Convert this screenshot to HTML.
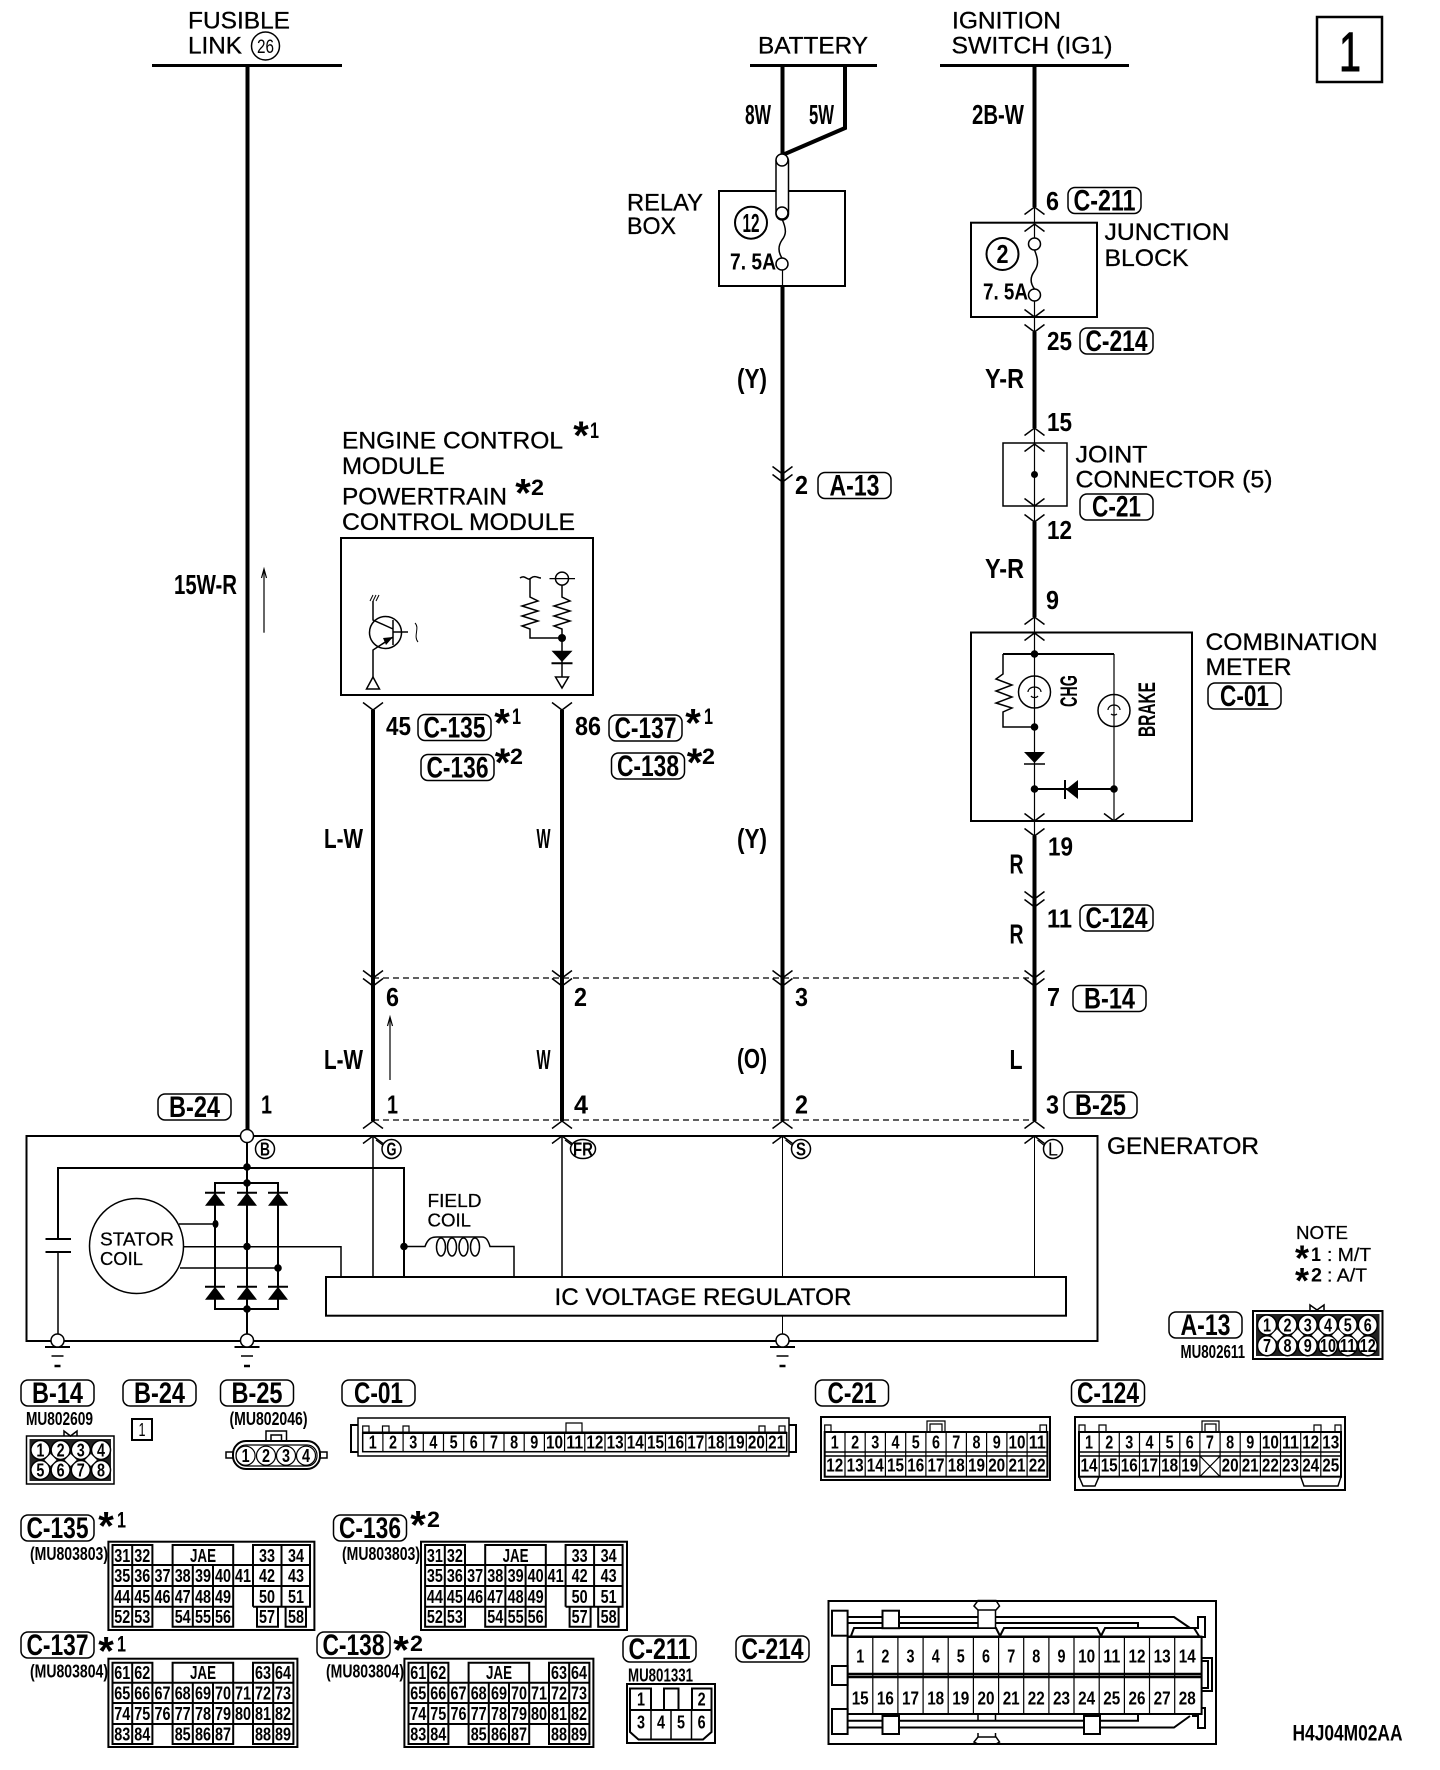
<!DOCTYPE html>
<html><head><meta charset="utf-8"><title>Charging circuit diagram</title>
<style>
html,body{margin:0;padding:0;background:#fff}
svg{display:block}
text{font-family:"Liberation Sans",sans-serif;fill:#000;stroke:none}
.t{font-size:24px;stroke:#000;stroke-width:.3px}
.s{font-size:18.5px;stroke:#000;stroke-width:.25px}
.w{font-size:28px;font-weight:bold}
.n{font-size:26px;font-weight:bold}
.l{font-size:30px;font-weight:bold;text-anchor:middle}
.p text,.p{font-size:18px;font-weight:bold;text-anchor:middle}
.st{font-size:40px;font-weight:bold;text-anchor:middle}
.st2{font-size:36px;font-weight:bold;text-anchor:middle}
.d{font-size:22px;font-weight:bold}
.m{font-size:18px;font-weight:bold}
.k{fill:#000;stroke:none}
.f{fill:#fff}
</style></head><body>
<svg xmlns="http://www.w3.org/2000/svg" width="1440" height="1770" viewBox="0 0 1440 1770" fill="none" stroke="#000" stroke-width="1.5">
<defs>
<path id="cu" d="M-10 7.5L0 0L10 7.5"/>
<path id="cd" d="M-10 -7.5L0 0L10 -7.5"/>
<rect id="lb" width="73" height="26" rx="7" stroke-width="1.5" fill="#fff"/>
<g id="gnd"><path d="M-12.5 6.5H12.5" stroke-width="2"/><path d="M-6 15.5H6" stroke-width="1.5"/><path d="M-3 25.5H3" stroke-width="2.5"/><ellipse cx="0" cy="0" rx="6.5" ry="6.5" fill="#fff" stroke-width="1.5"/></g>
<g id="dt"><path class="k" d="M-10 13L0 0L10 13Z"/><path d="M-10 0H10" stroke-width="2"/></g>
<path id="dia" d="M0 -6L6 0L0 6L-6 0Z" fill="#fff" stroke="none"/>
</defs>

<!-- page number -->
<rect x="1323" y="17" width="65" height="65" stroke-width="2.5" transform="translate(-6,0)"/>
<text x="1350" y="71" font-size="56" text-anchor="middle" textLength="22" lengthAdjust="spacingAndGlyphs" stroke="#000" stroke-width="1" style="stroke:#000;stroke-width:1px">1</text>

<!-- top labels -->
<text class="t" x="188" y="28.7" textLength="102" lengthAdjust="spacingAndGlyphs">FUSIBLE</text>
<text class="t" x="188" y="53.6" textLength="54" lengthAdjust="spacingAndGlyphs">LINK</text>
<ellipse cx="265.5" cy="46" rx="14" ry="14"/>
<text x="265.5" y="53" font-size="19" text-anchor="middle" textLength="17" lengthAdjust="spacingAndGlyphs">26</text>
<text class="t" x="758" y="53.6" textLength="110" lengthAdjust="spacingAndGlyphs">BATTERY</text>
<text class="t" x="952" y="28.7" textLength="109" lengthAdjust="spacingAndGlyphs">IGNITION</text>
<text class="t" x="951.5" y="53.6" textLength="161" lengthAdjust="spacingAndGlyphs">SWITCH (IG1)</text>
<path d="M152 65.5H342M750 65.5H877M940 65.5H1129" stroke-width="3"/>

<!-- thick wires -->
<g stroke-width="4">
<path d="M247.5 65V1130"/>
<path d="M373 710V1121M562 710V1121"/>
<path d="M782.5 65V155M782.5 286V1121"/>
<path d="M845 65V128L782.5 155"/>
<path d="M1034.5 65V207M1034.5 332V428M1034.5 522V617M1034.5 836V1121"/>
</g>

<!-- relay box -->
<rect x="719" y="191" width="126" height="95" stroke-width="2"/>
<rect x="776" y="155" width="12.5" height="65" rx="6.2" fill="#fff" stroke-width="1.5"/>
<circle cx="782" cy="160" r="6" class="f"/><circle cx="782" cy="213" r="6" class="f"/>
<path d="M782 219C787 230 786 235 782 240C778 246 778 252 782 258" stroke-width="1.5"/>
<circle cx="782" cy="264" r="6" class="f"/>
<path d="M782.5 270V286" stroke-width="1.2"/>
<ellipse cx="751" cy="222.7" rx="16" ry="16" stroke-width="2"/>
<text class="n" x="751" y="232" text-anchor="middle" textLength="17" lengthAdjust="spacingAndGlyphs">12</text>
<text class="n" x="730" y="269.5" textLength="46" lengthAdjust="spacingAndGlyphs" style="font-size:23px">7. 5A</text>
<text class="t" x="627" y="210.5" textLength="76" lengthAdjust="spacingAndGlyphs">RELAY</text>
<text class="t" x="627" y="234.2" textLength="49" lengthAdjust="spacingAndGlyphs">BOX</text>

<!-- wire labels top -->
<text class="w" x="745" y="124" textLength="26" lengthAdjust="spacingAndGlyphs">8W</text>
<text class="w" x="809" y="124" textLength="25" lengthAdjust="spacingAndGlyphs">5W</text>
<text class="w" x="972" y="124" textLength="52" lengthAdjust="spacingAndGlyphs">2B-W</text>
<text class="w" x="737" y="388" textLength="30" lengthAdjust="spacingAndGlyphs">(Y)</text>
<text class="w" x="985" y="388" textLength="39" lengthAdjust="spacingAndGlyphs">Y-R</text>
<text class="w" x="985" y="578" textLength="39" lengthAdjust="spacingAndGlyphs">Y-R</text>
<text class="w" x="174" y="594" textLength="63" lengthAdjust="spacingAndGlyphs">15W-R</text>
<path d="M264 632.7V570" stroke-width="1.2"/><path d="M261.5 578L264 569L266.5 578" stroke-width="1.2"/>

<!-- A-13 inline -->
<use href="#cd" x="782.5" y="474"/><use href="#cd" x="782.5" y="482"/>
<text class="n" x="795" y="494" textLength="13" lengthAdjust="spacingAndGlyphs">2</text>
<use href="#lb" x="818" y="472.5"/><text class="l" x="854.5" y="495.5" textLength="50" lengthAdjust="spacingAndGlyphs">A-13</text>

<!-- junction block -->
<use href="#cu" x="1034.5" y="207"/>
<text class="n" x="1046" y="210" textLength="13" lengthAdjust="spacingAndGlyphs">6</text>
<use href="#lb" x="1068" y="187.5"/><text class="l" x="1104.5" y="210.5" textLength="62" lengthAdjust="spacingAndGlyphs">C-211</text>
<rect x="971" y="222.7" width="126" height="94.3" stroke-width="2"/>
<path d="M1034.5 207V238M1034.5 301V332" stroke-width="1.2"/>
<use href="#cu" x="1034.5" y="224"/>
<circle cx="1034.5" cy="244" r="6" class="f"/>
<path d="M1034.5 250C1039 261 1038 266 1034.5 271C1030 277 1030 283 1034.5 289" stroke-width="1.5"/>
<circle cx="1034.5" cy="295" r="6" class="f"/>
<ellipse cx="1002.5" cy="254" rx="16" ry="16" stroke-width="2"/>
<text class="n" x="1002.5" y="263" text-anchor="middle" textLength="12" lengthAdjust="spacingAndGlyphs">2</text>
<text class="n" x="983" y="299.5" textLength="45" lengthAdjust="spacingAndGlyphs" style="font-size:23px">7. 5A</text>
<use href="#cd" x="1034.5" y="317"/><use href="#cd" x="1034.5" y="332"/>
<text class="t" x="1104.5" y="240" textLength="125" lengthAdjust="spacingAndGlyphs">JUNCTION</text>
<text class="t" x="1104.5" y="266" textLength="84" lengthAdjust="spacingAndGlyphs">BLOCK</text>
<text class="n" x="1047" y="350" textLength="25" lengthAdjust="spacingAndGlyphs">25</text>
<use href="#lb" x="1080" y="328"/><text class="l" x="1116.5" y="351" textLength="62" lengthAdjust="spacingAndGlyphs">C-214</text>

<!-- joint connector -->
<use href="#cu" x="1034.5" y="428"/>
<text class="n" x="1047" y="431" textLength="25" lengthAdjust="spacingAndGlyphs">15</text>
<rect x="1003" y="443" width="64" height="63" stroke-width="1.5"/>
<path d="M1034.5 428V522" stroke-width="1.2"/>
<use href="#cu" x="1034.5" y="444"/><use href="#cd" x="1034.5" y="506"/><use href="#cd" x="1034.5" y="522"/>
<circle cx="1034.5" cy="474.5" r="3.5" class="k"/>
<text class="t" x="1075.5" y="462.5" textLength="72" lengthAdjust="spacingAndGlyphs">JOINT</text>
<text class="t" x="1075.5" y="487.5" textLength="197" lengthAdjust="spacingAndGlyphs">CONNECTOR (5)</text>
<use href="#lb" x="1080" y="494"/><text class="l" x="1116.5" y="516.5" textLength="49" lengthAdjust="spacingAndGlyphs">C-21</text>
<text class="n" x="1047" y="539" textLength="25" lengthAdjust="spacingAndGlyphs">12</text>
<text class="n" x="1046" y="609" textLength="13" lengthAdjust="spacingAndGlyphs">9</text>

<!-- ECM -->
<text class="t" x="342" y="448.5" textLength="221" lengthAdjust="spacingAndGlyphs">ENGINE CONTROL</text>
<text class="t" x="342" y="473.8" textLength="103" lengthAdjust="spacingAndGlyphs">MODULE</text>
<text class="t" x="342" y="504.4" textLength="165" lengthAdjust="spacingAndGlyphs">POWERTRAIN</text>
<text class="t" x="342" y="530" textLength="233" lengthAdjust="spacingAndGlyphs">CONTROL MODULE</text>
<text class="st" x="581" y="449">*</text><text class="d" x="590" y="438" textLength="9" lengthAdjust="spacingAndGlyphs">1</text>
<text class="st" x="523" y="506.5">*</text><text class="d" x="531" y="495" textLength="13" lengthAdjust="spacingAndGlyphs">2</text>
<rect x="341" y="538" width="252" height="157" stroke-width="2"/>
<!-- transistor -->
<path d="M370 601L373 595M373 601L376 595M376 601L379 595" stroke-width="1"/>
<path d="M373 601V620L393 629M393 637L373 650V677M393 620V645M393 632H408" stroke-width="1.5"/>
<path class="k" d="M393 637L383 638L386 645Z"/>
<ellipse cx="385.5" cy="632.5" rx="16" ry="16" stroke-width="1.5"/>
<path d="M415 623C420 628 413 636 418 642" stroke-width="1"/>
<path d="M373 677L379.5 689H366.5Z" stroke-width="1.5"/>
<!-- resistors -->
<path d="M520 578C525 574 528 582 531 578C535 575 538 578 541 578M530 578V597L538 601L522 606L538 611L522 616L538 621L522 626L530 629V638H562" stroke-width="1.5"/>
<path d="M549.5 578.6H575" stroke-width="1.2"/>
<circle cx="562" cy="578.6" r="6.5"/>
<path d="M562 585V597L570 601L554 606L570 611L554 616L570 621L554 626L562 629V677" stroke-width="1.5"/>
<circle cx="562" cy="638" r="4" class="k"/>
<path class="k" d="M551.5 650.7H572.5L562 662Z"/><path d="M551.5 663.3H572.5" stroke-width="2"/>
<path d="M555.5 677H568.5L562 688Z" stroke-width="1.5" fill="#fff"/>

<!-- ECM connectors -->
<use href="#cd" x="373" y="710"/><use href="#cd" x="562" y="710"/>
<text class="n" x="386" y="735" textLength="25" lengthAdjust="spacingAndGlyphs">45</text>
<use href="#lb" x="418" y="714.5"/><text class="l" x="454.5" y="737.5" textLength="62" lengthAdjust="spacingAndGlyphs">C-135</text>
<text class="st" x="502" y="736.5">*</text><text class="d" x="512" y="724" textLength="9" lengthAdjust="spacingAndGlyphs">1</text>
<use href="#lb" x="421" y="754.5"/><text class="l" x="457.5" y="777.5" textLength="62" lengthAdjust="spacingAndGlyphs">C-136</text>
<text class="st" x="502.5" y="776">*</text><text class="d" x="510" y="764" textLength="13" lengthAdjust="spacingAndGlyphs">2</text>
<text class="n" x="575" y="735" textLength="26" lengthAdjust="spacingAndGlyphs">86</text>
<use href="#lb" x="609" y="715"/><text class="l" x="645.5" y="738" textLength="62" lengthAdjust="spacingAndGlyphs">C-137</text>
<text class="st" x="693" y="736.5">*</text><text class="d" x="704" y="724" textLength="9" lengthAdjust="spacingAndGlyphs">1</text>
<use href="#lb" x="611.5" y="753"/><text class="l" x="648" y="776" textLength="62" lengthAdjust="spacingAndGlyphs">C-138</text>
<text class="st" x="694.5" y="776">*</text><text class="d" x="702" y="764" textLength="13" lengthAdjust="spacingAndGlyphs">2</text>
<text class="w" x="324" y="848" textLength="39" lengthAdjust="spacingAndGlyphs">L-W</text>
<text class="w" x="536.5" y="848" textLength="14" lengthAdjust="spacingAndGlyphs">W</text>
<text class="w" x="737" y="848" textLength="30" lengthAdjust="spacingAndGlyphs">(Y)</text>

<!-- combination meter -->
<use href="#cu" x="1034.5" y="617"/>
<rect x="971" y="632.5" width="221" height="188.5" stroke-width="2"/>
<path d="M1034.5 617V836" stroke-width="1.2"/>
<use href="#cu" x="1034.5" y="633"/>
<path d="M1003 654H1114" stroke-width="2"/>
<path d="M1114 654V821" stroke-width="1.2"/>
<path d="M1003 654V674L996 679L1012 685L996 691L1012 697L996 703L1012 708L1003 712V727H1034.5" stroke-width="1.5"/>
<circle cx="1034.5" cy="654" r="3.8" class="k"/><circle cx="1034.5" cy="727" r="3.8" class="k"/>
<ellipse cx="1034.5" cy="692" rx="16" ry="16" stroke-width="1.5"/>
<path d="M1028 692a6.5 5 0 0 1 13 0M1031 696a4 3 0 0 0 7 0" stroke-width="1.2"/>
<ellipse cx="1114" cy="710.5" rx="16" ry="16" stroke-width="1.5"/>
<path d="M1108 710a6 5 0 0 1 12 0M1111 714a4 3 0 0 0 6 0" stroke-width="1.2"/>
<text class="n" transform="translate(1077,691) rotate(-90)" text-anchor="middle" textLength="32" lengthAdjust="spacingAndGlyphs" style="font-size:24px">CHG</text>
<text class="n" transform="translate(1155,709.5) rotate(-90)" text-anchor="middle" textLength="55" lengthAdjust="spacingAndGlyphs" style="font-size:24px">BRAKE</text>
<path class="k" d="M1024 752H1045L1034.5 763Z"/><path d="M1024 764H1045" stroke-width="1.5"/>
<path d="M1034.5 789H1114" stroke-width="2"/>
<path class="k" d="M1078 780V799L1066 789.5Z"/><path d="M1065 780V799" stroke-width="2"/>
<circle cx="1034.5" cy="789" r="3.8" class="k"/><circle cx="1114" cy="789" r="3.8" class="k"/>
<use href="#cd" x="1034.5" y="821"/><use href="#cd" x="1114" y="821"/><use href="#cd" x="1034.5" y="836"/>
<text class="t" x="1205.5" y="650" textLength="172" lengthAdjust="spacingAndGlyphs">COMBINATION</text>
<text class="t" x="1205.5" y="675" textLength="86" lengthAdjust="spacingAndGlyphs">METER</text>
<use href="#lb" x="1208" y="683"/><text class="l" x="1244.5" y="706" textLength="49" lengthAdjust="spacingAndGlyphs">C-01</text>
<text class="n" x="1048" y="855.5" textLength="25" lengthAdjust="spacingAndGlyphs">19</text>
<text class="w" x="1009.5" y="873.5" textLength="14" lengthAdjust="spacingAndGlyphs">R</text>
<text class="w" x="1009.5" y="943.5" textLength="14" lengthAdjust="spacingAndGlyphs">R</text>
<use href="#cd" x="1034.5" y="899"/><use href="#cd" x="1034.5" y="907"/>
<text class="n" x="1047" y="927.5" textLength="25" lengthAdjust="spacingAndGlyphs">11</text>
<use href="#lb" x="1080" y="905"/><text class="l" x="1116.5" y="928" textLength="62" lengthAdjust="spacingAndGlyphs">C-124</text>

<!-- dashed connector B-14 -->
<path d="M373 978H1034" stroke-width="1.2" stroke-dasharray="6 4"/>
<g>
<use href="#cd" x="373" y="978"/><use href="#cd" x="373" y="986"/>
<use href="#cd" x="562" y="978"/><use href="#cd" x="562" y="986"/>
<use href="#cd" x="782.5" y="978"/><use href="#cd" x="782.5" y="986"/>
<use href="#cd" x="1034.5" y="978"/><use href="#cd" x="1034.5" y="986"/>
</g>
<text class="n" x="386" y="1006" textLength="13" lengthAdjust="spacingAndGlyphs">6</text>
<text class="n" x="574" y="1006" textLength="13" lengthAdjust="spacingAndGlyphs">2</text>
<text class="n" x="795" y="1006" textLength="13" lengthAdjust="spacingAndGlyphs">3</text>
<text class="n" x="1047" y="1006" textLength="13" lengthAdjust="spacingAndGlyphs">7</text>
<use href="#lb" x="1073" y="985.5"/><text class="l" x="1109.5" y="1008.5" textLength="51" lengthAdjust="spacingAndGlyphs">B-14</text>
<path d="M390 1080V1018" stroke-width="1.2"/><path d="M387.5 1026L390 1017L392.5 1026" stroke-width="1.2"/>
<text class="w" x="324" y="1069" textLength="39" lengthAdjust="spacingAndGlyphs">L-W</text>
<text class="w" x="536.5" y="1069" textLength="14" lengthAdjust="spacingAndGlyphs">W</text>
<text class="w" x="737" y="1068" textLength="30" lengthAdjust="spacingAndGlyphs">(O)</text>
<text class="w" x="1009.5" y="1069" textLength="13" lengthAdjust="spacingAndGlyphs">L</text>
<use href="#lb" x="158" y="1094"/><text class="l" x="194.5" y="1117" textLength="51" lengthAdjust="spacingAndGlyphs">B-24</text>
<text class="n" x="261" y="1113.5" textLength="11" lengthAdjust="spacingAndGlyphs">1</text>
<text class="n" x="387" y="1113.5" textLength="11" lengthAdjust="spacingAndGlyphs">1</text>
<text class="n" x="574" y="1113.5" textLength="14" lengthAdjust="spacingAndGlyphs">4</text>
<text class="n" x="795" y="1113.5" textLength="13" lengthAdjust="spacingAndGlyphs">2</text>
<text class="n" x="1046" y="1113.5" textLength="13" lengthAdjust="spacingAndGlyphs">3</text>
<use href="#lb" x="1064" y="1092"/><text class="l" x="1100.5" y="1115" textLength="51" lengthAdjust="spacingAndGlyphs">B-25</text>
<path d="M373 1120H1034" stroke-width="1.2" stroke-dasharray="6 4"/>
<use href="#cu" x="373" y="1121"/><use href="#cu" x="562" y="1121"/><use href="#cu" x="782.5" y="1121"/><use href="#cu" x="1034.5" y="1121"/>

<!-- generator -->
<rect x="26.5" y="1136" width="1071" height="205" stroke-width="2"/>
<use href="#cu" x="373" y="1136"/><use href="#cu" x="562" y="1136"/><use href="#cu" x="782.5" y="1136"/><use href="#cu" x="1034.5" y="1136"/>
<path d="M247 1136V1335" stroke-width="2"/>
<ellipse cx="247" cy="1136" rx="6.5" ry="6.5" class="f" stroke-width="1.5"/>
<path d="M373 1136V1277M562 1136V1277" stroke-width="1.5"/>
<path d="M782.5 1136V1277M1034.5 1136V1277M782.5 1316V1335" stroke-width="1"/>
<path d="M376 1140L384 1146M565 1140L573 1146M785.5 1140L793 1146M1037.5 1140L1045 1146" stroke-width="1.2"/>
<g stroke-width="1.5" fill="#fff">
<ellipse cx="265" cy="1149" rx="9.5" ry="9.5"/><ellipse cx="391.5" cy="1149" rx="9.5" ry="9.5"/><ellipse cx="583" cy="1149" rx="12.5" ry="9.5"/><ellipse cx="801" cy="1149" rx="9.5" ry="9.5"/><ellipse cx="1053" cy="1149" rx="9.5" ry="9.5"/>
</g>
<g class="m" text-anchor="middle" style="font-size:18px">
<text x="265" y="1155.5" textLength="10" lengthAdjust="spacingAndGlyphs">B</text>
<text x="391.5" y="1155.5" textLength="10" lengthAdjust="spacingAndGlyphs">G</text>
<text x="583" y="1155.5" textLength="20" lengthAdjust="spacingAndGlyphs">FR</text>
<text x="801" y="1155.5" textLength="10" lengthAdjust="spacingAndGlyphs">S</text>
<text x="1053" y="1155.5" font-weight="normal" textLength="10" lengthAdjust="spacingAndGlyphs">L</text>
</g>
<text class="t" x="1107" y="1154" textLength="152" lengthAdjust="spacingAndGlyphs">GENERATOR</text>

<path d="M58 1239V1168H404V1277" stroke-width="2"/>
<path d="M404 1168V1277" stroke-width="1.5"/>
<path d="M45.5 1239H71M45.5 1252H71" stroke-width="2"/>
<path d="M58 1252V1335" stroke-width="1.5"/>
<use href="#gnd" x="57.5" y="1340.5"/><use href="#gnd" x="247" y="1340.5"/><use href="#gnd" x="782.5" y="1340.5"/>
<path d="M215 1309V1183H278V1309Z" stroke-width="2"/>
<circle cx="247" cy="1167" r="3.8" class="k"/><circle cx="247" cy="1183" r="3.8" class="k"/><circle cx="247" cy="1309" r="3.8" class="k"/>
<use href="#dt" x="215" y="1192.7"/><use href="#dt" x="247" y="1192.7"/><use href="#dt" x="278" y="1192.7"/>
<use href="#dt" x="215" y="1286.7"/><use href="#dt" x="247" y="1286.7"/><use href="#dt" x="278" y="1286.7"/>
<ellipse cx="136.5" cy="1246" rx="47" ry="47.5" stroke-width="1.5"/>
<text class="s" x="100" y="1245.7" textLength="74" lengthAdjust="spacingAndGlyphs">STATOR</text>
<text class="s" x="100" y="1265" textLength="43" lengthAdjust="spacingAndGlyphs">COIL</text>
<path d="M179 1224H215M184 1246.7H341V1277M180 1268H278" stroke-width="1.5"/>
<ellipse cx="215.5" cy="1224" rx="3" ry="4" class="k"/><circle cx="247" cy="1246.5" r="3.8" class="k"/><circle cx="278" cy="1268" r="3.8" class="k"/><circle cx="404" cy="1246.5" r="3.8" class="k"/>
<path d="M404 1246.5H425C428 1238 432 1237 437 1237H482C486 1237 488 1240 490 1246.5H514V1277" stroke-width="1.5"/>
<ellipse cx="441" cy="1247" rx="4.5" ry="9"/><ellipse cx="452" cy="1247" rx="4.5" ry="9"/><ellipse cx="463.5" cy="1247" rx="4.5" ry="9"/><ellipse cx="475" cy="1247" rx="4.5" ry="9"/>
<text class="s" x="427.5" y="1207" textLength="54" lengthAdjust="spacingAndGlyphs">FIELD</text>
<text class="s" x="427.5" y="1226.7" textLength="43.5" lengthAdjust="spacingAndGlyphs">COIL</text>
<rect x="326" y="1277" width="740" height="38.7" class="f" stroke-width="2"/>
<text class="t" x="554.5" y="1305" textLength="297" lengthAdjust="spacingAndGlyphs">IC VOLTAGE REGULATOR</text>

<!-- note -->
<text class="s" x="1296" y="1239" textLength="52" lengthAdjust="spacingAndGlyphs">NOTE</text>
<text class="st2" x="1302" y="1270.5">*</text><text class="d" x="1311" y="1261" textLength="10" lengthAdjust="spacingAndGlyphs" style="font-size:19px">1</text>
<text class="s" x="1327" y="1261" textLength="44" lengthAdjust="spacingAndGlyphs">: M/T</text>
<text class="st2" x="1302" y="1293">*</text><text class="d" x="1311" y="1281.7" textLength="11" lengthAdjust="spacingAndGlyphs" style="font-size:19px">2</text>
<text class="s" x="1327" y="1281.7" textLength="40" lengthAdjust="spacingAndGlyphs">: A/T</text>

<!-- A-13 connector -->
<use href="#lb" x="1169" y="1312"/><text class="l" x="1205.5" y="1335" textLength="50" lengthAdjust="spacingAndGlyphs">A-13</text>
<text class="m" x="1180.5" y="1358" textLength="64.5" lengthAdjust="spacingAndGlyphs">MU802611</text>
<path d="M1310 1310V1305L1317 1310L1324 1305V1310" stroke-width="1.5"/>
<rect x="1253" y="1311" width="129.5" height="48" stroke-width="2"/>
<rect x="1256" y="1314" width="123.5" height="42" fill="#222" stroke="none"/>
<g fill="#fff" stroke="#000" stroke-width="1.5">
<ellipse cx="1267" cy="1325" rx="9.5" ry="10"/><ellipse cx="1287.5" cy="1325" rx="9.5" ry="10"/><ellipse cx="1307.7" cy="1325" rx="9.5" ry="10"/><ellipse cx="1328" cy="1325" rx="9.5" ry="10"/><ellipse cx="1347.7" cy="1325" rx="9.5" ry="10"/><ellipse cx="1367.8" cy="1325" rx="9.5" ry="10"/>
<ellipse cx="1267" cy="1345.7" rx="9.5" ry="10"/><ellipse cx="1287.5" cy="1345.7" rx="9.5" ry="10"/><ellipse cx="1307.7" cy="1345.7" rx="9.5" ry="10"/><ellipse cx="1328" cy="1345.7" rx="9.5" ry="10"/><ellipse cx="1347.7" cy="1345.7" rx="9.5" ry="10"/><ellipse cx="1367.8" cy="1345.7" rx="9.5" ry="10"/>
</g>
<use href="#dia" x="1277" y="1335.3"/><use href="#dia" x="1297.6" y="1335.3"/><use href="#dia" x="1317.8" y="1335.3"/><use href="#dia" x="1338" y="1335.3"/><use href="#dia" x="1357.7" y="1335.3"/>
<g class="p">
<text x="1267" y="1331.5" textLength="8" lengthAdjust="spacingAndGlyphs">1</text><text x="1287.5" y="1331.5" textLength="8" lengthAdjust="spacingAndGlyphs">2</text><text x="1307.7" y="1331.5" textLength="8" lengthAdjust="spacingAndGlyphs">3</text><text x="1328" y="1331.5" textLength="8" lengthAdjust="spacingAndGlyphs">4</text><text x="1347.7" y="1331.5" textLength="8" lengthAdjust="spacingAndGlyphs">5</text><text x="1367.8" y="1331.5" textLength="8" lengthAdjust="spacingAndGlyphs">6</text>
<text x="1267" y="1352" textLength="8" lengthAdjust="spacingAndGlyphs">7</text><text x="1287.5" y="1352" textLength="8" lengthAdjust="spacingAndGlyphs">8</text><text x="1307.7" y="1352" textLength="8" lengthAdjust="spacingAndGlyphs">9</text><text x="1328" y="1352" textLength="16" lengthAdjust="spacingAndGlyphs">10</text><text x="1347.7" y="1352" textLength="16" lengthAdjust="spacingAndGlyphs">11</text><text x="1367.8" y="1352" textLength="16" lengthAdjust="spacingAndGlyphs">12</text>
</g>

<!-- connector title row 1 -->
<use href="#lb" x="21" y="1380"/><text class="l" x="57.5" y="1403" textLength="51" lengthAdjust="spacingAndGlyphs">B-14</text>
<use href="#lb" x="123" y="1380"/><text class="l" x="159.5" y="1403" textLength="51" lengthAdjust="spacingAndGlyphs">B-24</text>
<use href="#lb" x="220.5" y="1380"/><text class="l" x="257" y="1403" textLength="51" lengthAdjust="spacingAndGlyphs">B-25</text>
<use href="#lb" x="342" y="1380"/><text class="l" x="378.5" y="1403" textLength="49" lengthAdjust="spacingAndGlyphs">C-01</text>
<use href="#lb" x="815.5" y="1380"/><text class="l" x="852" y="1403" textLength="49" lengthAdjust="spacingAndGlyphs">C-21</text>
<use href="#lb" x="1071.5" y="1380"/><text class="l" x="1108" y="1403" textLength="62" lengthAdjust="spacingAndGlyphs">C-124</text>

<!-- B-14 -->
<text class="m" x="26" y="1425" textLength="67" lengthAdjust="spacingAndGlyphs">MU802609</text>
<path d="M64 1436V1431L70.5 1436L77 1431V1436" stroke-width="1.5"/>
<rect x="26.5" y="1436" width="87.5" height="48" stroke-width="1.5"/>
<rect x="29.5" y="1439" width="81.5" height="42" fill="#222" stroke="none"/>
<g fill="#fff" stroke="#000" stroke-width="1.5">
<ellipse cx="40.4" cy="1450" rx="9.5" ry="9.5"/><ellipse cx="60.6" cy="1450" rx="9.5" ry="9.5"/><ellipse cx="80.8" cy="1450" rx="9.5" ry="9.5"/><ellipse cx="101" cy="1450" rx="9.5" ry="9.5"/>
<ellipse cx="40.4" cy="1470" rx="9.5" ry="9.5"/><ellipse cx="60.6" cy="1470" rx="9.5" ry="9.5"/><ellipse cx="80.8" cy="1470" rx="9.5" ry="9.5"/><ellipse cx="101" cy="1470" rx="9.5" ry="9.5"/>
</g>
<use href="#dia" x="50.5" y="1460"/><use href="#dia" x="70.7" y="1460"/><use href="#dia" x="90.9" y="1460"/>
<g class="p">
<text x="40.4" y="1456.5" textLength="8" lengthAdjust="spacingAndGlyphs">1</text><text x="60.6" y="1456.5" textLength="8" lengthAdjust="spacingAndGlyphs">2</text><text x="80.8" y="1456.5" textLength="8" lengthAdjust="spacingAndGlyphs">3</text><text x="101" y="1456.5" textLength="8" lengthAdjust="spacingAndGlyphs">4</text>
<text x="40.4" y="1476.5" textLength="8" lengthAdjust="spacingAndGlyphs">5</text><text x="60.6" y="1476.5" textLength="8" lengthAdjust="spacingAndGlyphs">6</text><text x="80.8" y="1476.5" textLength="8" lengthAdjust="spacingAndGlyphs">7</text><text x="101" y="1476.5" textLength="8" lengthAdjust="spacingAndGlyphs">8</text>
</g>

<!-- B-24 -->
<rect x="132" y="1419" width="20" height="21" stroke-width="2"/>
<text x="142" y="1436" font-size="18" text-anchor="middle" textLength="7" lengthAdjust="spacingAndGlyphs">1</text>

<!-- B-25 -->
<text class="m" x="229.5" y="1425" textLength="78" lengthAdjust="spacingAndGlyphs">(MU802046)</text>
<path d="M266 1441V1431H286.5V1441M271 1441V1435H281.5V1441" stroke-width="1.5"/>
<path d="M233 1452H226V1458H233M320 1452H327V1458H320" stroke-width="1.5"/>
<rect x="233" y="1441" width="87" height="28" rx="13" stroke-width="2" fill="#fff"/>
<rect x="236" y="1445" width="81" height="21" rx="10" stroke-width="1.2"/>
<g fill="#fff" stroke-width="1.2"><circle cx="245.6" cy="1455.7" r="9.5"/><circle cx="266" cy="1455.7" r="9.5"/><circle cx="286" cy="1455.7" r="9.5"/><circle cx="306" cy="1455.7" r="9.5"/></g>
<g class="p"><text x="245.6" y="1462" textLength="8" lengthAdjust="spacingAndGlyphs">1</text><text x="266" y="1462" textLength="8" lengthAdjust="spacingAndGlyphs">2</text><text x="286" y="1462" textLength="8" lengthAdjust="spacingAndGlyphs">3</text><text x="306" y="1462" textLength="8" lengthAdjust="spacingAndGlyphs">4</text></g>

<!-- C-01 -->
<rect x="358" y="1418" width="431" height="38" stroke-width="1.5"/>
<path d="M358 1425H351V1452H358M789 1425H796V1452H789" stroke-width="2"/>
<path d="M362.7 1433V1426H369V1433M382.5 1433V1426H389V1433M403 1433V1426H409V1433M566 1433V1423H582V1433M759 1433V1426H765V1433M779 1433V1426H785V1433" stroke-width="1.2"/>
<rect x="362.7" y="1432.7" width="424" height="19" stroke-width="1.5"/>
<path d="M362.7 1432.7H786.7" stroke-width="2.5"/>
<path d="M382.9 1433V1452M403.1 1433V1452M423.3 1433V1452M443.5 1433V1452M463.7 1433V1452M483.8 1433V1452M504 1433V1452M524.2 1433V1452M544.4 1433V1452M564.6 1433V1452M584.8 1433V1452M605 1433V1452M625.2 1433V1452M645.3 1433V1452M665.5 1433V1452M685.7 1433V1452M705.9 1433V1452M726.1 1433V1452M746.3 1433V1452M766.5 1433V1452" stroke-width="1.2"/>
<g class="p">
<text x="372.8" y="1448.3" textLength="8" lengthAdjust="spacingAndGlyphs">1</text><text x="393" y="1448.3" textLength="8" lengthAdjust="spacingAndGlyphs">2</text><text x="413.2" y="1448.3" textLength="8" lengthAdjust="spacingAndGlyphs">3</text><text x="433.4" y="1448.3" textLength="8" lengthAdjust="spacingAndGlyphs">4</text><text x="453.6" y="1448.3" textLength="8" lengthAdjust="spacingAndGlyphs">5</text><text x="473.8" y="1448.3" textLength="8" lengthAdjust="spacingAndGlyphs">6</text><text x="494" y="1448.3" textLength="8" lengthAdjust="spacingAndGlyphs">7</text><text x="514.1" y="1448.3" textLength="8" lengthAdjust="spacingAndGlyphs">8</text><text x="534.3" y="1448.3" textLength="8" lengthAdjust="spacingAndGlyphs">9</text>
<text x="554.5" y="1448.3" textLength="17" lengthAdjust="spacingAndGlyphs">10</text><text x="574.7" y="1448.3" textLength="17" lengthAdjust="spacingAndGlyphs">11</text><text x="594.9" y="1448.3" textLength="17" lengthAdjust="spacingAndGlyphs">12</text><text x="615.1" y="1448.3" textLength="17" lengthAdjust="spacingAndGlyphs">13</text><text x="635.3" y="1448.3" textLength="17" lengthAdjust="spacingAndGlyphs">14</text><text x="655.5" y="1448.3" textLength="17" lengthAdjust="spacingAndGlyphs">15</text><text x="675.7" y="1448.3" textLength="17" lengthAdjust="spacingAndGlyphs">16</text><text x="695.8" y="1448.3" textLength="17" lengthAdjust="spacingAndGlyphs">17</text><text x="716" y="1448.3" textLength="17" lengthAdjust="spacingAndGlyphs">18</text><text x="736.2" y="1448.3" textLength="17" lengthAdjust="spacingAndGlyphs">19</text><text x="756.4" y="1448.3" textLength="17" lengthAdjust="spacingAndGlyphs">20</text><text x="776.6" y="1448.3" textLength="17" lengthAdjust="spacingAndGlyphs">21</text>
</g>

<!-- C-21 -->
<rect x="821" y="1417" width="229" height="63" stroke-width="2"/>
<path d="M824.7 1432V1425H831V1432M1040 1432V1425H1046.5V1432M927 1432V1421H945V1432M930 1432V1424H942V1432" stroke-width="1.2"/>
<rect x="824.7" y="1432" width="222.7" height="44.7" stroke-width="2"/>
<path d="M824.7 1452H1047.4M824.7 1456H1047.4" stroke-width="1.5"/>
<path d="M845 1432V1476.7M865.2 1432V1476.7M885.4 1432V1476.7M905.7 1432V1476.7M925.9 1432V1476.7M946.1 1432V1476.7M966.4 1432V1476.7M986.6 1432V1476.7M1006.9 1432V1476.7M1027.1 1432V1476.7" stroke-width="1.2"/>
<g class="p">
<text x="834.8" y="1448.3" textLength="8" lengthAdjust="spacingAndGlyphs">1</text><text x="855.1" y="1448.3" textLength="8" lengthAdjust="spacingAndGlyphs">2</text><text x="875.3" y="1448.3" textLength="8" lengthAdjust="spacingAndGlyphs">3</text><text x="895.5" y="1448.3" textLength="8" lengthAdjust="spacingAndGlyphs">4</text><text x="915.8" y="1448.3" textLength="8" lengthAdjust="spacingAndGlyphs">5</text><text x="936" y="1448.3" textLength="8" lengthAdjust="spacingAndGlyphs">6</text><text x="956.3" y="1448.3" textLength="8" lengthAdjust="spacingAndGlyphs">7</text><text x="976.5" y="1448.3" textLength="8" lengthAdjust="spacingAndGlyphs">8</text><text x="996.7" y="1448.3" textLength="8" lengthAdjust="spacingAndGlyphs">9</text><text x="1017" y="1448.3" textLength="17" lengthAdjust="spacingAndGlyphs">10</text><text x="1037.2" y="1448.3" textLength="17" lengthAdjust="spacingAndGlyphs">11</text>
<text x="834.8" y="1471.7" textLength="17" lengthAdjust="spacingAndGlyphs">12</text><text x="855.1" y="1471.7" textLength="17" lengthAdjust="spacingAndGlyphs">13</text><text x="875.3" y="1471.7" textLength="17" lengthAdjust="spacingAndGlyphs">14</text><text x="895.5" y="1471.7" textLength="17" lengthAdjust="spacingAndGlyphs">15</text><text x="915.8" y="1471.7" textLength="17" lengthAdjust="spacingAndGlyphs">16</text><text x="936" y="1471.7" textLength="17" lengthAdjust="spacingAndGlyphs">17</text><text x="956.3" y="1471.7" textLength="17" lengthAdjust="spacingAndGlyphs">18</text><text x="976.5" y="1471.7" textLength="17" lengthAdjust="spacingAndGlyphs">19</text><text x="996.7" y="1471.7" textLength="17" lengthAdjust="spacingAndGlyphs">20</text><text x="1017" y="1471.7" textLength="17" lengthAdjust="spacingAndGlyphs">21</text><text x="1037.2" y="1471.7" textLength="17" lengthAdjust="spacingAndGlyphs">22</text>
</g>

<!-- C-124 -->
<rect x="1075" y="1417" width="270" height="73" stroke-width="2"/>
<path d="M1079 1432V1425H1085V1432M1099 1432V1425H1106V1432M1314 1432V1425H1321V1432M1335 1432V1425H1341V1432M1202 1432V1421H1219V1432M1205 1432V1424H1216V1432" stroke-width="1.2"/>
<rect x="1079" y="1432" width="262" height="44.7" stroke-width="2"/>
<path d="M1079 1452H1341M1079 1456H1341" stroke-width="1.5"/>
<path d="M1099.2 1432V1476.7M1119.3 1432V1476.7M1139.5 1432V1476.7M1159.6 1432V1476.7M1179.8 1432V1476.7M1199.9 1432V1476.7M1220.1 1432V1476.7M1240.2 1432V1476.7M1260.4 1432V1476.7M1280.5 1432V1476.7M1300.7 1432V1476.7M1320.8 1432V1476.7" stroke-width="1.2"/>
<path d="M1199.9 1456L1220.1 1476.7M1220.1 1456L1199.9 1476.7" stroke-width="1.2"/>
<path d="M1079 1476.7L1083 1486H1095L1099 1476.7M1300.7 1476.7L1304 1486H1338L1341 1476.7" stroke-width="1.5"/>
<g class="p">
<text x="1089" y="1448.3" textLength="8" lengthAdjust="spacingAndGlyphs">1</text><text x="1109.2" y="1448.3" textLength="8" lengthAdjust="spacingAndGlyphs">2</text><text x="1129.3" y="1448.3" textLength="8" lengthAdjust="spacingAndGlyphs">3</text><text x="1149.5" y="1448.3" textLength="8" lengthAdjust="spacingAndGlyphs">4</text><text x="1169.6" y="1448.3" textLength="8" lengthAdjust="spacingAndGlyphs">5</text><text x="1189.8" y="1448.3" textLength="8" lengthAdjust="spacingAndGlyphs">6</text><text x="1209.9" y="1448.3" textLength="8" lengthAdjust="spacingAndGlyphs">7</text><text x="1230.1" y="1448.3" textLength="8" lengthAdjust="spacingAndGlyphs">8</text><text x="1250.2" y="1448.3" textLength="8" lengthAdjust="spacingAndGlyphs">9</text><text x="1270.4" y="1448.3" textLength="17" lengthAdjust="spacingAndGlyphs">10</text><text x="1290.5" y="1448.3" textLength="17" lengthAdjust="spacingAndGlyphs">11</text><text x="1310.7" y="1448.3" textLength="17" lengthAdjust="spacingAndGlyphs">12</text><text x="1330.8" y="1448.3" textLength="17" lengthAdjust="spacingAndGlyphs">13</text>
<text x="1089" y="1471.7" textLength="17" lengthAdjust="spacingAndGlyphs">14</text><text x="1109.2" y="1471.7" textLength="17" lengthAdjust="spacingAndGlyphs">15</text><text x="1129.3" y="1471.7" textLength="17" lengthAdjust="spacingAndGlyphs">16</text><text x="1149.5" y="1471.7" textLength="17" lengthAdjust="spacingAndGlyphs">17</text><text x="1169.6" y="1471.7" textLength="17" lengthAdjust="spacingAndGlyphs">18</text><text x="1189.8" y="1471.7" textLength="17" lengthAdjust="spacingAndGlyphs">19</text><text x="1230.1" y="1471.7" textLength="17" lengthAdjust="spacingAndGlyphs">20</text><text x="1250.2" y="1471.7" textLength="17" lengthAdjust="spacingAndGlyphs">21</text><text x="1270.4" y="1471.7" textLength="17" lengthAdjust="spacingAndGlyphs">22</text><text x="1290.5" y="1471.7" textLength="17" lengthAdjust="spacingAndGlyphs">23</text><text x="1310.7" y="1471.7" textLength="17" lengthAdjust="spacingAndGlyphs">24</text><text x="1330.8" y="1471.7" textLength="17" lengthAdjust="spacingAndGlyphs">25</text>
</g>

<!-- C-135 -->
<use href="#lb" x="21" y="1515"/><text class="l" x="57.5" y="1538" textLength="62" lengthAdjust="spacingAndGlyphs">C-135</text>
<text class="st" x="106" y="1539.5">*</text><text class="d" x="117" y="1527.5" textLength="9" lengthAdjust="spacingAndGlyphs">1</text>
<text class="m" x="30" y="1560" textLength="78" lengthAdjust="spacingAndGlyphs">(MU803803)</text>
<g>
<rect x="108.4" y="1541.7" width="206" height="88.3" stroke-width="2"/>
<path stroke-width="2" d="M112.5 1545H152.4V1565H112.5ZM132.2 1545V1565M172.6 1545H233.2V1565H172.6ZM253 1545H310V1565H253ZM281.5 1545V1565M112.5 1565H310V1586H112.5ZM132.2 1565V1606.7M152.4 1565V1606.7M172.6 1565V1606.7M192.8 1565V1606.7M213 1565V1606.7M233.2 1565V1606.7M253 1565V1606.7M281.5 1565V1606.7M310 1586V1606.7H253M233.2 1586V1606.7H112.5V1586M112.5 1606.7V1626.7H152.4V1606.7M132.2 1606.7V1626.7M172.6 1606.7V1626.7H233.2V1606.7M192.8 1606.7V1626.7M213 1606.7V1626.7M257 1606.7V1626.7H278V1606.7M285.6 1606.7V1626.7H306V1606.7"/>
<g class="p">
<text x="122.3" y="1562" textLength="16" lengthAdjust="spacingAndGlyphs">31</text><text x="142.3" y="1562" textLength="16" lengthAdjust="spacingAndGlyphs">32</text><text x="203" y="1562" textLength="26" lengthAdjust="spacingAndGlyphs">JAE</text><text x="267" y="1562" textLength="16" lengthAdjust="spacingAndGlyphs">33</text><text x="296" y="1562" textLength="16" lengthAdjust="spacingAndGlyphs">34</text>
<text x="122.3" y="1582" textLength="16" lengthAdjust="spacingAndGlyphs">35</text><text x="142.3" y="1582" textLength="16" lengthAdjust="spacingAndGlyphs">36</text><text x="162.5" y="1582" textLength="16" lengthAdjust="spacingAndGlyphs">37</text><text x="182.7" y="1582" textLength="16" lengthAdjust="spacingAndGlyphs">38</text><text x="203" y="1582" textLength="16" lengthAdjust="spacingAndGlyphs">39</text><text x="223" y="1582" textLength="16" lengthAdjust="spacingAndGlyphs">40</text><text x="243" y="1582" textLength="16" lengthAdjust="spacingAndGlyphs">41</text><text x="267" y="1582" textLength="16" lengthAdjust="spacingAndGlyphs">42</text><text x="296" y="1582" textLength="16" lengthAdjust="spacingAndGlyphs">43</text>
<text x="122.3" y="1603" textLength="16" lengthAdjust="spacingAndGlyphs">44</text><text x="142.3" y="1603" textLength="16" lengthAdjust="spacingAndGlyphs">45</text><text x="162.5" y="1603" textLength="16" lengthAdjust="spacingAndGlyphs">46</text><text x="182.7" y="1603" textLength="16" lengthAdjust="spacingAndGlyphs">47</text><text x="203" y="1603" textLength="16" lengthAdjust="spacingAndGlyphs">48</text><text x="223" y="1603" textLength="16" lengthAdjust="spacingAndGlyphs">49</text><text x="267" y="1603" textLength="16" lengthAdjust="spacingAndGlyphs">50</text><text x="296" y="1603" textLength="16" lengthAdjust="spacingAndGlyphs">51</text>
<text x="122.3" y="1623" textLength="16" lengthAdjust="spacingAndGlyphs">52</text><text x="142.3" y="1623" textLength="16" lengthAdjust="spacingAndGlyphs">53</text><text x="182.7" y="1623" textLength="16" lengthAdjust="spacingAndGlyphs">54</text><text x="203" y="1623" textLength="16" lengthAdjust="spacingAndGlyphs">55</text><text x="223" y="1623" textLength="16" lengthAdjust="spacingAndGlyphs">56</text><text x="267" y="1623" textLength="16" lengthAdjust="spacingAndGlyphs">57</text><text x="296" y="1623" textLength="16" lengthAdjust="spacingAndGlyphs">58</text>
</g>
</g>

<!-- C-136 -->
<use href="#lb" x="333.5" y="1515"/><text class="l" x="370" y="1538" textLength="62" lengthAdjust="spacingAndGlyphs">C-136</text>
<text class="st" x="418" y="1538.5">*</text><text class="d" x="427" y="1527" textLength="13" lengthAdjust="spacingAndGlyphs">2</text>
<text class="m" x="342" y="1560" textLength="78" lengthAdjust="spacingAndGlyphs">(MU803803)</text>
<g transform="translate(312.6,0)">
<rect x="108.4" y="1541.7" width="206" height="88.3" stroke-width="2"/>
<path stroke-width="2" d="M112.5 1545H152.4V1565H112.5ZM132.2 1545V1565M172.6 1545H233.2V1565H172.6ZM253 1545H310V1565H253ZM281.5 1545V1565M112.5 1565H310V1586H112.5ZM132.2 1565V1606.7M152.4 1565V1606.7M172.6 1565V1606.7M192.8 1565V1606.7M213 1565V1606.7M233.2 1565V1606.7M253 1565V1606.7M281.5 1565V1606.7M310 1586V1606.7H253M233.2 1586V1606.7H112.5V1586M112.5 1606.7V1626.7H152.4V1606.7M132.2 1606.7V1626.7M172.6 1606.7V1626.7H233.2V1606.7M192.8 1606.7V1626.7M213 1606.7V1626.7M257 1606.7V1626.7H278V1606.7M285.6 1606.7V1626.7H306V1606.7"/>
<g class="p">
<text x="122.3" y="1562" textLength="16" lengthAdjust="spacingAndGlyphs">31</text><text x="142.3" y="1562" textLength="16" lengthAdjust="spacingAndGlyphs">32</text><text x="203" y="1562" textLength="26" lengthAdjust="spacingAndGlyphs">JAE</text><text x="267" y="1562" textLength="16" lengthAdjust="spacingAndGlyphs">33</text><text x="296" y="1562" textLength="16" lengthAdjust="spacingAndGlyphs">34</text>
<text x="122.3" y="1582" textLength="16" lengthAdjust="spacingAndGlyphs">35</text><text x="142.3" y="1582" textLength="16" lengthAdjust="spacingAndGlyphs">36</text><text x="162.5" y="1582" textLength="16" lengthAdjust="spacingAndGlyphs">37</text><text x="182.7" y="1582" textLength="16" lengthAdjust="spacingAndGlyphs">38</text><text x="203" y="1582" textLength="16" lengthAdjust="spacingAndGlyphs">39</text><text x="223" y="1582" textLength="16" lengthAdjust="spacingAndGlyphs">40</text><text x="243" y="1582" textLength="16" lengthAdjust="spacingAndGlyphs">41</text><text x="267" y="1582" textLength="16" lengthAdjust="spacingAndGlyphs">42</text><text x="296" y="1582" textLength="16" lengthAdjust="spacingAndGlyphs">43</text>
<text x="122.3" y="1603" textLength="16" lengthAdjust="spacingAndGlyphs">44</text><text x="142.3" y="1603" textLength="16" lengthAdjust="spacingAndGlyphs">45</text><text x="162.5" y="1603" textLength="16" lengthAdjust="spacingAndGlyphs">46</text><text x="182.7" y="1603" textLength="16" lengthAdjust="spacingAndGlyphs">47</text><text x="203" y="1603" textLength="16" lengthAdjust="spacingAndGlyphs">48</text><text x="223" y="1603" textLength="16" lengthAdjust="spacingAndGlyphs">49</text><text x="267" y="1603" textLength="16" lengthAdjust="spacingAndGlyphs">50</text><text x="296" y="1603" textLength="16" lengthAdjust="spacingAndGlyphs">51</text>
<text x="122.3" y="1623" textLength="16" lengthAdjust="spacingAndGlyphs">52</text><text x="142.3" y="1623" textLength="16" lengthAdjust="spacingAndGlyphs">53</text><text x="182.7" y="1623" textLength="16" lengthAdjust="spacingAndGlyphs">54</text><text x="203" y="1623" textLength="16" lengthAdjust="spacingAndGlyphs">55</text><text x="223" y="1623" textLength="16" lengthAdjust="spacingAndGlyphs">56</text><text x="267" y="1623" textLength="16" lengthAdjust="spacingAndGlyphs">57</text><text x="296" y="1623" textLength="16" lengthAdjust="spacingAndGlyphs">58</text>
</g>
</g>

<!-- C-137 -->
<use href="#lb" x="21" y="1632"/><text class="l" x="57.5" y="1655" textLength="62" lengthAdjust="spacingAndGlyphs">C-137</text>
<text class="st" x="106" y="1664.5">*</text><text class="d" x="117" y="1651.5" textLength="9" lengthAdjust="spacingAndGlyphs">1</text>
<text class="m" x="30" y="1677.7" textLength="78" lengthAdjust="spacingAndGlyphs">(MU803804)</text>
<g>
<rect x="108.4" y="1658.7" width="189" height="88.3" stroke-width="2"/>
<path stroke-width="2" d="M112.5 1662.7H152.4V1682.7H112.5ZM132.2 1662.7V1682.7M172.6 1662.7H233.2V1682.7H172.6ZM253 1662.7H293.4V1682.7H253ZM273.2 1662.7V1682.7M112.5 1682.7H293.4V1724H112.5ZM112.5 1703H293.4M132.2 1682.7V1724M152.4 1682.7V1724M172.6 1682.7V1724M192.8 1682.7V1724M213 1682.7V1724M233.2 1682.7V1724M253 1682.7V1724M273.2 1682.7V1724M112.5 1724V1744H152.4V1724M132.2 1724V1744M172.6 1724V1744H233.2V1724M192.8 1724V1744M213 1724V1744M253 1724V1744H293.4V1724M273.2 1724V1744"/>
<g class="p">
<text x="122.3" y="1679" textLength="16" lengthAdjust="spacingAndGlyphs">61</text><text x="142.3" y="1679" textLength="16" lengthAdjust="spacingAndGlyphs">62</text><text x="203" y="1679" textLength="26" lengthAdjust="spacingAndGlyphs">JAE</text><text x="263" y="1679" textLength="16" lengthAdjust="spacingAndGlyphs">63</text><text x="283" y="1679" textLength="16" lengthAdjust="spacingAndGlyphs">64</text>
<text x="122.3" y="1699.5" textLength="16" lengthAdjust="spacingAndGlyphs">65</text><text x="142.3" y="1699.5" textLength="16" lengthAdjust="spacingAndGlyphs">66</text><text x="162.5" y="1699.5" textLength="16" lengthAdjust="spacingAndGlyphs">67</text><text x="182.7" y="1699.5" textLength="16" lengthAdjust="spacingAndGlyphs">68</text><text x="203" y="1699.5" textLength="16" lengthAdjust="spacingAndGlyphs">69</text><text x="223" y="1699.5" textLength="16" lengthAdjust="spacingAndGlyphs">70</text><text x="243" y="1699.5" textLength="16" lengthAdjust="spacingAndGlyphs">71</text><text x="263" y="1699.5" textLength="16" lengthAdjust="spacingAndGlyphs">72</text><text x="283" y="1699.5" textLength="16" lengthAdjust="spacingAndGlyphs">73</text>
<text x="122.3" y="1720" textLength="16" lengthAdjust="spacingAndGlyphs">74</text><text x="142.3" y="1720" textLength="16" lengthAdjust="spacingAndGlyphs">75</text><text x="162.5" y="1720" textLength="16" lengthAdjust="spacingAndGlyphs">76</text><text x="182.7" y="1720" textLength="16" lengthAdjust="spacingAndGlyphs">77</text><text x="203" y="1720" textLength="16" lengthAdjust="spacingAndGlyphs">78</text><text x="223" y="1720" textLength="16" lengthAdjust="spacingAndGlyphs">79</text><text x="243" y="1720" textLength="16" lengthAdjust="spacingAndGlyphs">80</text><text x="263" y="1720" textLength="16" lengthAdjust="spacingAndGlyphs">81</text><text x="283" y="1720" textLength="16" lengthAdjust="spacingAndGlyphs">82</text>
<text x="122.3" y="1740.5" textLength="16" lengthAdjust="spacingAndGlyphs">83</text><text x="142.3" y="1740.5" textLength="16" lengthAdjust="spacingAndGlyphs">84</text><text x="182.7" y="1740.5" textLength="16" lengthAdjust="spacingAndGlyphs">85</text><text x="203" y="1740.5" textLength="16" lengthAdjust="spacingAndGlyphs">86</text><text x="223" y="1740.5" textLength="16" lengthAdjust="spacingAndGlyphs">87</text><text x="263" y="1740.5" textLength="16" lengthAdjust="spacingAndGlyphs">88</text><text x="283" y="1740.5" textLength="16" lengthAdjust="spacingAndGlyphs">89</text>
</g>
</g>

<!-- C-138 -->
<use href="#lb" x="317" y="1632"/><text class="l" x="353.5" y="1655" textLength="62" lengthAdjust="spacingAndGlyphs">C-138</text>
<text class="st" x="401" y="1663.5">*</text><text class="d" x="410" y="1651" textLength="13" lengthAdjust="spacingAndGlyphs">2</text>
<text class="m" x="326" y="1677.7" textLength="78" lengthAdjust="spacingAndGlyphs">(MU803804)</text>
<g transform="translate(296,0)">
<rect x="108.4" y="1658.7" width="189" height="88.3" stroke-width="2"/>
<path stroke-width="2" d="M112.5 1662.7H152.4V1682.7H112.5ZM132.2 1662.7V1682.7M172.6 1662.7H233.2V1682.7H172.6ZM253 1662.7H293.4V1682.7H253ZM273.2 1662.7V1682.7M112.5 1682.7H293.4V1724H112.5ZM112.5 1703H293.4M132.2 1682.7V1724M152.4 1682.7V1724M172.6 1682.7V1724M192.8 1682.7V1724M213 1682.7V1724M233.2 1682.7V1724M253 1682.7V1724M273.2 1682.7V1724M112.5 1724V1744H152.4V1724M132.2 1724V1744M172.6 1724V1744H233.2V1724M192.8 1724V1744M213 1724V1744M253 1724V1744H293.4V1724M273.2 1724V1744"/>
<g class="p">
<text x="122.3" y="1679" textLength="16" lengthAdjust="spacingAndGlyphs">61</text><text x="142.3" y="1679" textLength="16" lengthAdjust="spacingAndGlyphs">62</text><text x="203" y="1679" textLength="26" lengthAdjust="spacingAndGlyphs">JAE</text><text x="263" y="1679" textLength="16" lengthAdjust="spacingAndGlyphs">63</text><text x="283" y="1679" textLength="16" lengthAdjust="spacingAndGlyphs">64</text>
<text x="122.3" y="1699.5" textLength="16" lengthAdjust="spacingAndGlyphs">65</text><text x="142.3" y="1699.5" textLength="16" lengthAdjust="spacingAndGlyphs">66</text><text x="162.5" y="1699.5" textLength="16" lengthAdjust="spacingAndGlyphs">67</text><text x="182.7" y="1699.5" textLength="16" lengthAdjust="spacingAndGlyphs">68</text><text x="203" y="1699.5" textLength="16" lengthAdjust="spacingAndGlyphs">69</text><text x="223" y="1699.5" textLength="16" lengthAdjust="spacingAndGlyphs">70</text><text x="243" y="1699.5" textLength="16" lengthAdjust="spacingAndGlyphs">71</text><text x="263" y="1699.5" textLength="16" lengthAdjust="spacingAndGlyphs">72</text><text x="283" y="1699.5" textLength="16" lengthAdjust="spacingAndGlyphs">73</text>
<text x="122.3" y="1720" textLength="16" lengthAdjust="spacingAndGlyphs">74</text><text x="142.3" y="1720" textLength="16" lengthAdjust="spacingAndGlyphs">75</text><text x="162.5" y="1720" textLength="16" lengthAdjust="spacingAndGlyphs">76</text><text x="182.7" y="1720" textLength="16" lengthAdjust="spacingAndGlyphs">77</text><text x="203" y="1720" textLength="16" lengthAdjust="spacingAndGlyphs">78</text><text x="223" y="1720" textLength="16" lengthAdjust="spacingAndGlyphs">79</text><text x="243" y="1720" textLength="16" lengthAdjust="spacingAndGlyphs">80</text><text x="263" y="1720" textLength="16" lengthAdjust="spacingAndGlyphs">81</text><text x="283" y="1720" textLength="16" lengthAdjust="spacingAndGlyphs">82</text>
<text x="122.3" y="1740.5" textLength="16" lengthAdjust="spacingAndGlyphs">83</text><text x="142.3" y="1740.5" textLength="16" lengthAdjust="spacingAndGlyphs">84</text><text x="182.7" y="1740.5" textLength="16" lengthAdjust="spacingAndGlyphs">85</text><text x="203" y="1740.5" textLength="16" lengthAdjust="spacingAndGlyphs">86</text><text x="223" y="1740.5" textLength="16" lengthAdjust="spacingAndGlyphs">87</text><text x="263" y="1740.5" textLength="16" lengthAdjust="spacingAndGlyphs">88</text><text x="283" y="1740.5" textLength="16" lengthAdjust="spacingAndGlyphs">89</text>
</g>
</g>

<!-- C-211 -->
<use href="#lb" x="623" y="1636"/><text class="l" x="659.5" y="1659" textLength="62" lengthAdjust="spacingAndGlyphs">C-211</text>
<text class="m" x="628" y="1681.7" textLength="65" lengthAdjust="spacingAndGlyphs">MU801331</text>
<rect x="627" y="1684" width="88" height="59" stroke-width="2"/>
<path stroke-width="2" d="M630 1710V1688.5H651V1710M664 1710V1688.5H678.5V1710M692 1710V1688.5H711.5V1710M630 1710H711.5V1732L703 1739.5H638.5L630 1732Z"/>
<path stroke-width="1.5" d="M651 1710V1739.5M671 1710V1739.5M691.5 1710V1739.5"/>
<g class="p">
<text x="641" y="1705.5" textLength="8" lengthAdjust="spacingAndGlyphs">1</text><text x="701.6" y="1705.5" textLength="8" lengthAdjust="spacingAndGlyphs">2</text>
<text x="641" y="1728.5" textLength="8" lengthAdjust="spacingAndGlyphs">3</text><text x="661" y="1728.5" textLength="8" lengthAdjust="spacingAndGlyphs">4</text><text x="681" y="1728.5" textLength="8" lengthAdjust="spacingAndGlyphs">5</text><text x="701.6" y="1728.5" textLength="8" lengthAdjust="spacingAndGlyphs">6</text>
</g>

<!-- C-214 -->
<use href="#lb" x="736" y="1636"/><text class="l" x="772.5" y="1659" textLength="62" lengthAdjust="spacingAndGlyphs">C-214</text>
<rect x="828.5" y="1601" width="387.5" height="143" stroke-width="2"/>
<path stroke-width="2" d="M847.6 1617H1174L1190 1628M847.6 1623H1138V1628M851 1636L854 1628H996L1000 1636L1004 1628H1097L1101 1636L1105 1628H1194L1199 1636"/>
<rect x="832" y="1610.7" width="15.6" height="25" stroke-width="2" fill="#fff"/>
<rect x="882.5" y="1610.7" width="16.5" height="17.5" stroke-width="2" fill="#fff"/>
<path stroke-width="1.5" fill="#fff" d="M978 1610V1628H995.5V1610"/>
<path stroke-width="1.5" d="M974 1606L978 1600.5H996L999.5 1606L996 1610H978Z"/>
<path stroke-width="2" d="M1192 1628H1198V1617H1205V1637H1201"/>
<rect x="847.6" y="1636.7" width="354" height="77.3" stroke-width="2" fill="#fff"/>
<path stroke-width="2.5" d="M847.6 1636.7H1201.6M847.6 1674H1201.6M847.6 1677H1201.6"/>
<path stroke-width="1.2" d="M872.8 1636.7V1714M897.9 1636.7V1714M923.1 1636.7V1714M948.2 1636.7V1714M973.4 1636.7V1714M998.6 1636.7V1714M1023.7 1636.7V1714M1048.9 1636.7V1714M1074 1636.7V1714M1099.2 1636.7V1714M1124.4 1636.7V1714M1149.5 1636.7V1714M1174.7 1636.7V1714"/>
<rect x="832" y="1666" width="15.6" height="19" stroke-width="2" fill="#fff"/>
<path stroke-width="2" d="M1201.6 1658H1212V1691H1201.6M1201.6 1661H1208V1688H1201.6"/>
<path stroke-width="2" d="M847.6 1720.7H1138V1715M847.6 1727.5H1174L1190 1716"/>
<rect x="832" y="1709" width="15.6" height="25" stroke-width="2" fill="#fff"/>
<rect x="882.5" y="1716" width="16.5" height="18" stroke-width="2" fill="#fff"/>
<rect x="1084" y="1716" width="16" height="18" stroke-width="2" fill="#fff"/>
<path stroke-width="1.5" d="M978 1714V1720M995.5 1714V1720M978 1733V1737M995.5 1733V1737M974 1742L978 1737H996L999.5 1742L996 1744H978Z"/>
<path stroke-width="2" d="M1192 1716H1198V1728H1205V1708H1201"/>
<g class="p">
<text x="860.2" y="1662.5" textLength="8" lengthAdjust="spacingAndGlyphs">1</text><text x="885.4" y="1662.5" textLength="8" lengthAdjust="spacingAndGlyphs">2</text><text x="910.5" y="1662.5" textLength="8" lengthAdjust="spacingAndGlyphs">3</text><text x="935.7" y="1662.5" textLength="8" lengthAdjust="spacingAndGlyphs">4</text><text x="960.8" y="1662.5" textLength="8" lengthAdjust="spacingAndGlyphs">5</text><text x="986" y="1662.5" textLength="8" lengthAdjust="spacingAndGlyphs">6</text><text x="1011.2" y="1662.5" textLength="8" lengthAdjust="spacingAndGlyphs">7</text><text x="1036.3" y="1662.5" textLength="8" lengthAdjust="spacingAndGlyphs">8</text><text x="1061.5" y="1662.5" textLength="8" lengthAdjust="spacingAndGlyphs">9</text><text x="1086.6" y="1662.5" textLength="17" lengthAdjust="spacingAndGlyphs">10</text><text x="1111.8" y="1662.5" textLength="17" lengthAdjust="spacingAndGlyphs">11</text><text x="1137" y="1662.5" textLength="17" lengthAdjust="spacingAndGlyphs">12</text><text x="1162.1" y="1662.5" textLength="17" lengthAdjust="spacingAndGlyphs">13</text><text x="1187.3" y="1662.5" textLength="17" lengthAdjust="spacingAndGlyphs">14</text>
<text x="860.2" y="1704.5" textLength="17" lengthAdjust="spacingAndGlyphs">15</text><text x="885.4" y="1704.5" textLength="17" lengthAdjust="spacingAndGlyphs">16</text><text x="910.5" y="1704.5" textLength="17" lengthAdjust="spacingAndGlyphs">17</text><text x="935.7" y="1704.5" textLength="17" lengthAdjust="spacingAndGlyphs">18</text><text x="960.8" y="1704.5" textLength="17" lengthAdjust="spacingAndGlyphs">19</text><text x="986" y="1704.5" textLength="17" lengthAdjust="spacingAndGlyphs">20</text><text x="1011.2" y="1704.5" textLength="17" lengthAdjust="spacingAndGlyphs">21</text><text x="1036.3" y="1704.5" textLength="17" lengthAdjust="spacingAndGlyphs">22</text><text x="1061.5" y="1704.5" textLength="17" lengthAdjust="spacingAndGlyphs">23</text><text x="1086.6" y="1704.5" textLength="17" lengthAdjust="spacingAndGlyphs">24</text><text x="1111.8" y="1704.5" textLength="17" lengthAdjust="spacingAndGlyphs">25</text><text x="1137" y="1704.5" textLength="17" lengthAdjust="spacingAndGlyphs">26</text><text x="1162.1" y="1704.5" textLength="17" lengthAdjust="spacingAndGlyphs">27</text><text x="1187.3" y="1704.5" textLength="17" lengthAdjust="spacingAndGlyphs">28</text>
</g>

<text class="w" x="1292.5" y="1740.7" textLength="110" lengthAdjust="spacingAndGlyphs" style="font-size:22px">H4J04M02AA</text>
</svg>
</body></html>
